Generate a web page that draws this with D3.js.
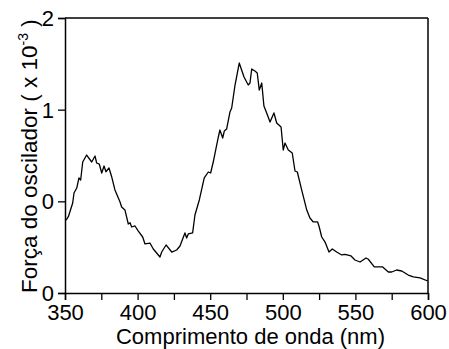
<!DOCTYPE html>
<html><head><meta charset="utf-8">
<script src="https://cdn.jsdelivr.net/npm/d3@7"></script>
<style>body{margin:0;background:#fff}svg{display:block}text{font-family:"Liberation Sans",Arial,sans-serif;fill:#000}</style>
</head><body><svg id="c" width="449" height="349"></svg>
<script>
const wavelength = [350.7,352.3,355.3,356.2,358.1,359.6,360.8,362.2,364.9,368.4,370.7,371.8,373.6,375.3,376.9,378.2,380.3,382.2,384.4,387.9,389.0,391.3,393.6,394.8,395.9,398.2,400.5,403.5,405.1,408.5,410.8,415.4,416.6,419.6,423.5,426.9,429.2,432.6,433.8,434.9,437.9,439.5,442.5,445.9,448.7,450.3,452.1,455.6,456.7,458.6,459.7,461.3,463.6,464.8,467.1,470.0,473.3,476.2,477.4,478.6,480.8,482.4,483.8,485.5,487.0,488.9,491.2,493.9,495.8,498.8,500.3,501.5,503.8,506.5,508.4,510.0,513.0,516.5,518.7,521.0,524.0,525.1,526.8,529.1,531.8,534.1,537.1,540.6,542.8,547.0,549.7,553.2,557.3,558.9,563.0,566.9,568.8,572.7,575.0,578.4,581.9,586.4,589.9,594.5,599.8];
const strength = [0.796,0.832,0.982,1.091,1.145,1.255,1.233,1.429,1.505,1.429,1.494,1.418,1.407,1.309,1.385,1.323,1.364,1.265,1.124,0.993,0.938,0.905,0.753,0.767,0.720,0.731,0.676,0.611,0.535,0.545,0.480,0.393,0.447,0.524,0.447,0.469,0.513,0.655,0.600,0.644,0.655,0.851,1.015,1.255,1.320,1.309,1.429,1.702,1.778,1.691,1.767,1.789,1.974,2.018,2.269,2.509,2.356,2.269,2.291,2.444,2.422,2.400,2.214,2.291,2.040,1.964,1.865,1.964,1.855,1.811,1.560,1.636,1.560,1.527,1.331,1.320,1.124,0.905,0.818,0.775,0.775,0.720,0.611,0.556,0.447,0.480,0.447,0.415,0.422,0.404,0.360,0.338,0.382,0.368,0.284,0.284,0.284,0.229,0.229,0.251,0.240,0.196,0.175,0.164,0.131];
const xTicks = [350,375,400,425,450,475,500,525,550,575,600];
const xTickLabels = ["350","","400","","450","","500","","550","","600"];
const yTicks = [0,1,2,3];
const yTickLabels = ["0","0","1","2"];

const svg = d3.select("#c");
const L=65,R=428,T=18,B=293;
const x = d3.scaleLinear().domain([350,600]).range([L,R]);
const y = d3.scaleLinear().domain([0,3]).range([B,T]);

const xAxis = d3.axisBottom(x).tickValues(xTicks).tickSize(7).tickPadding(4)
  .tickFormat((d,i)=>xTickLabels[i]);
const gx = svg.append("g").attr("transform",`translate(0,${B})`).call(xAxis);
const yAxis = d3.axisLeft(y).tickValues(yTicks).tickSize(7).tickPadding(4)
  .tickFormat((d,i)=>yTickLabels[i]);
const gy = svg.append("g").attr("transform",`translate(${L},0)`).call(yAxis);
[gx,gy].forEach(g=>{
  g.select(".domain").attr("stroke","#000").attr("stroke-width",1.5);
  g.selectAll(".tick line").attr("stroke","#000").attr("stroke-width",1.3);
  g.selectAll(".tick text").attr("font-size",22).attr("font-family","Liberation Sans, Arial, sans-serif").attr("fill","#000");
});
gy.selectAll(".tick text").attr("dy","0.34em");
// box top and right
svg.append("line").attr("x1",L).attr("x2",R).attr("y1",T).attr("y2",T).attr("stroke","#000").attr("stroke-width",1.5);
svg.append("line").attr("x1",R).attr("x2",R).attr("y1",T).attr("y2",B).attr("stroke","#000").attr("stroke-width",1.5);

const pts = wavelength.map((w,i)=>[w,strength[i]]);
svg.append("path").datum(pts)
  .attr("d",d3.line().x(d=>x(d[0])).y(d=>y(d[1])))
  .attr("fill","none").attr("stroke","#000").attr("stroke-width",1.3).attr("stroke-linejoin","round");

svg.append("text").attr("x",(L+R)/2+4).attr("y",344).attr("text-anchor","middle")
  .attr("font-size",22).text("Comprimento de onda (nm)");

const yt = svg.append("text").attr("transform","translate(37,293) rotate(-90)")
  .attr("text-anchor","start").attr("font-size",22.5);
yt.append("tspan").text("Força do oscilador ( x 10");
yt.append("tspan").attr("font-size",14).attr("dy",-9).text("-3");
yt.append("tspan").attr("dy",9).text(" )");
</script></body></html>
